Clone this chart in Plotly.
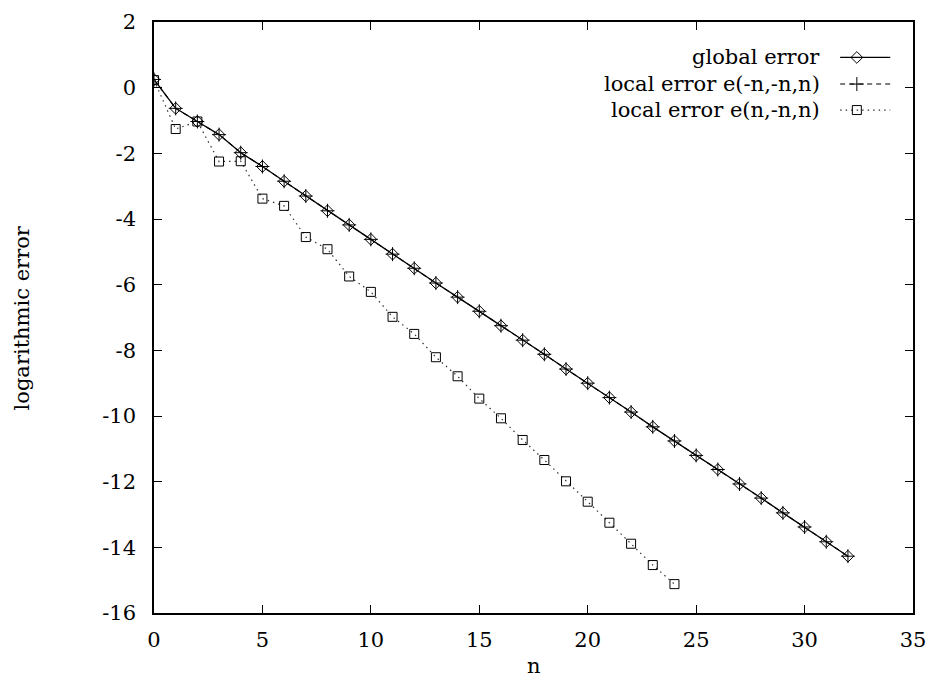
import plotly.graph_objects as go

n_global = list(range(0, 33))
global_err = [0.25, -0.63, -1.03, -1.43, -1.98, -2.40, -2.85, -3.30, -3.75, -4.18,
              -4.62, -5.07, -5.50, -5.95, -6.38, -6.81, -7.25, -7.69, -8.12, -8.57,
              -9.00, -9.44, -9.88, -10.33, -10.76, -11.20, -11.63, -12.07, -12.50,
              -12.95, -13.38, -13.83, -14.27]
local_mnn = list(global_err)  # e(-n,-n,n) coincides with the global error

n_local = list(range(0, 25))
local_pnn = [0.23, -1.26, -1.03, -2.25, -2.24, -3.38, -3.60, -4.55, -4.92, -5.75,
             -6.22, -6.98, -7.50, -8.21, -8.79, -9.47, -10.07, -10.73, -11.34,
             -11.99, -12.61, -13.25, -13.89, -14.54, -15.12]

x_tick_vals = [0, 5, 10, 15, 20, 25, 30, 35]
x_tick_text = ["0", "5", "10", "15", "20", "25", "30", "35"]
y_tick_vals = [2, 0, -2, -4, -6, -8, -10, -12, -14, -16]
y_tick_text = ["2", "0", "-2", "-4", "-6", "-8", "-10", "-12", "-14", "-16"]

legend_labels = ["global error", "local error e(-n,-n,n)", "local error e(n,-n,n)"]
x_title = "n"
y_title = "logarithmic error"

FONT = "DejaVu Serif"
FS = 21

fig = go.Figure()

fig.add_trace(go.Scatter(
    x=n_global, y=global_err, mode="lines+markers",
    line=dict(color="black", width=1.3),
    marker=dict(symbol="diamond-open", size=9, color="black", line=dict(width=1, color="black")),
    showlegend=False))
fig.add_trace(go.Scatter(
    x=n_global, y=local_mnn, mode="lines+markers",
    line=dict(color="black", width=1.1, dash="5px,4px"),
    marker=dict(symbol="cross-thin-open", size=10, color="black", line=dict(width=1, color="black")),
    showlegend=False))
fig.add_trace(go.Scatter(
    x=n_local, y=local_pnn, mode="lines+markers",
    line=dict(color="#333333", width=1.2, dash="1.5px,4px"),
    marker=dict(symbol="square-open", size=9, color="black", line=dict(width=1, color="black")),
    showlegend=False))

# manual gnuplot-style key (text on the left, sample on the right)
row_y = [0.940, 0.895, 0.851]
styles = [
    dict(line=dict(color="black", width=1.3), sym="diamond-open", size=9),
    dict(line=dict(color="black", width=1.1, dash="5px,4px"), sym="cross-thin-open", size=10),
    dict(line=dict(color="#333333", width=1.2, dash="1.5px,4px"), sym="square-open", size=9),
]
for lab, yy, st in zip(legend_labels, row_y, styles):
    fig.add_trace(go.Scatter(x=[0.904, 0.970], y=[yy, yy], mode="lines", line=st["line"],
                             xaxis="x2", yaxis="y2", showlegend=False, hoverinfo="skip"))
    fig.add_trace(go.Scatter(x=[0.926], y=[yy], mode="markers",
                             marker=dict(symbol=st["sym"], size=st["size"], color="black",
                                         line=dict(width=1, color="black")),
                             xaxis="x2", yaxis="y2", showlegend=False, hoverinfo="skip"))
    fig.add_annotation(x=0.880, y=yy, xref="paper", yref="paper", text=lab,
                       showarrow=False, xanchor="right", yanchor="middle",
                       font=dict(family=FONT, size=FS, color="black"))

# axis titles
fig.add_annotation(x=0.5, y=-0.090, xref="paper", yref="paper", text=x_title,
                   showarrow=False, xanchor="center", yanchor="middle",
                   font=dict(family=FONT, size=FS, color="black"))
fig.add_annotation(x=-0.174, y=0.5, xref="paper", yref="paper", text=y_title,
                   showarrow=False, xanchor="center", yanchor="middle", textangle=-90,
                   font=dict(family=FONT, size=FS, color="black"))

axis_common = dict(showline=True, linecolor="black", linewidth=1.5, mirror="ticks",
                   ticks="inside", ticklen=8, tickwidth=1.2, tickcolor="black",
                   showgrid=False, zeroline=False, automargin=False,
                   tickfont=dict(family=FONT, size=FS, color="black"))

fig.update_layout(
    width=930, height=679,
    margin=dict(l=154, r=17, t=22, b=66),
    paper_bgcolor="white", plot_bgcolor="white",
    font=dict(family=FONT, size=FS, color="black"),
    xaxis=dict(range=[0, 35], tickmode="array", tickvals=x_tick_vals, ticktext=x_tick_text,
               ticklabelstandoff=7, **axis_common),
    yaxis=dict(range=[-16, 2], tickmode="array", tickvals=y_tick_vals, ticktext=y_tick_text,
               ticklabelstandoff=12, **axis_common),
    xaxis2=dict(range=[0, 1], overlaying="x", visible=False, fixedrange=True),
    yaxis2=dict(range=[0, 1], overlaying="y", visible=False, fixedrange=True),
)

fig.write_html("out.html")
